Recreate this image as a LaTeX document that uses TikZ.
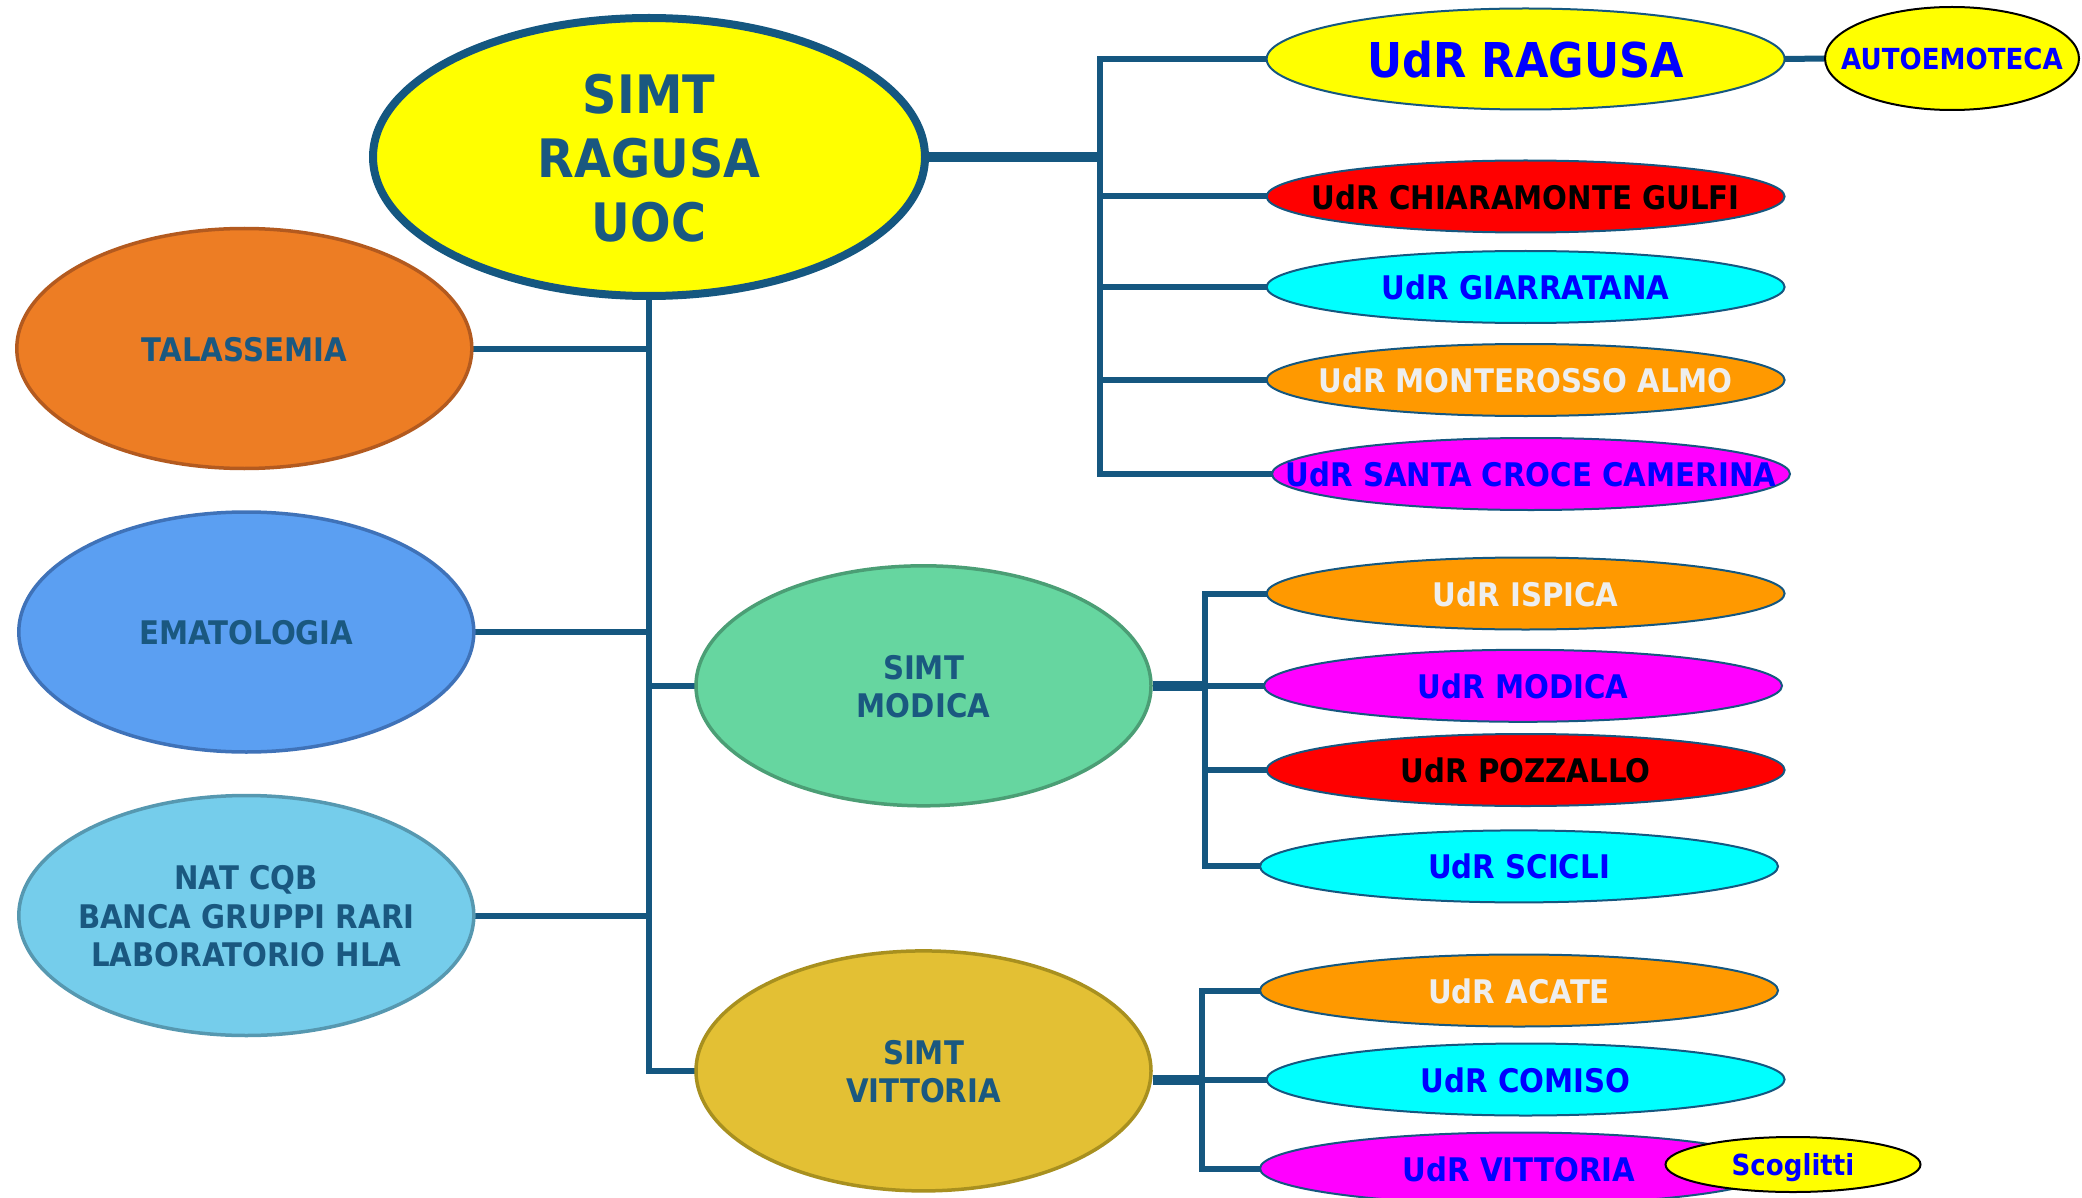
\documentclass[tikz,border=0pt]{standalone}
\usepackage{fontspec}
\newfontfamily\labfont[FakeStretch=0.9]{DejaVu Sans}
\usetikzlibrary{shapes.geometric,backgrounds}
\definecolor{linec}{RGB}{21,87,128}
\definecolor{txtd}{RGB}{26,88,128}
\definecolor{pyellow}{RGB}{255,255,0}
\definecolor{pred}{RGB}{255,0,0}
\definecolor{pcyan}{RGB}{0,255,255}
\definecolor{pmagenta}{RGB}{255,0,255}
\definecolor{udrorange}{RGB}{255,153,0}
\definecolor{lighttxt}{RGB}{238,238,238}
\definecolor{bluetxt}{RGB}{0,0,255}
\definecolor{talf}{RGB}{237,125,36}
\definecolor{talb}{RGB}{179,90,31}
\definecolor{emaf}{RGB}{91,159,242}
\definecolor{emab}{RGB}{63,114,184}
\definecolor{natf}{RGB}{117,205,235}
\definecolor{natb}{RGB}{86,152,176}
\definecolor{modf}{RGB}{102,214,160}
\definecolor{modb}{RGB}{75,158,117}
\definecolor{vitf}{RGB}{227,192,52}
\definecolor{vitb}{RGB}{168,144,31}
\newcommand{\zwbox}[1]{\makebox[0pt]{\raisebox{-0.15em}[\height][\depth]{\begin{tabular}{@{}c@{}}#1\end{tabular}}}}
\begin{document}
\begin{tikzpicture}[x=1pt,y=-1pt,
  base/.style={ellipse, inner sep=0pt, align=center,
    font=\labfont\bfseries\fontsize{32.5}{38.5}\selectfont},
  udr/.style={base, draw=linec, line width=2pt, minimum width=518pt, minimum height=72pt},
  bigell/.style={base, line width=3.5pt, minimum width=455pt, minimum height=240pt, text=txtd},
  small/.style={base, draw=black, line width=2pt, fill=pyellow, text=bluetxt,
    font=\labfont\bfseries\fontsize{29}{34}\selectfont},
  conn/.style={draw=linec, line width=6pt, line cap=rect},
  thickconn/.style={draw=linec, line width=10pt, line cap=butt}]
\path[use as bounding box] (0,0) rectangle (2082,1198);

% main
\node[base, draw=linec, line width=8pt, fill=pyellow, minimum width=552pt, minimum height=278pt,
  text=txtd, font=\labfont\bfseries\fontsize{53}{64}\selectfont] (main) at (649,157) {\zwbox{SIMT\\RAGUSA\\UOC}};

% upper right group
\node[udr, fill=pyellow, text=bluetxt, minimum height=101pt,
  font=\labfont\bfseries\fontsize{48}{56}\selectfont] (r1) at (1525.6,59) {\zwbox{UdR RAGUSA}};
\node[small, minimum width=254pt, minimum height=103pt] (auto) at (1952,58.5) {\zwbox{AUTOEMOTECA}};
\node[udr, fill=pred, text=black] (r2) at (1525.6,196.5) {\zwbox{UdR CHIARAMONTE GULFI}};
\node[udr, fill=pcyan, text=bluetxt] (r3) at (1525.6,287) {\zwbox{UdR GIARRATANA}};
\node[udr, fill=udrorange, text=lighttxt] (r4) at (1525.6,380) {\zwbox{UdR MONTEROSSO ALMO}};
\node[udr, fill=pmagenta, text=bluetxt] (r5) at (1531,474) {\zwbox{UdR SANTA CROCE CAMERINA}};

% left column
\node[bigell, fill=talf, draw=talb] (tal) at (244.3,348.5) {\zwbox{TALASSEMIA}};
\node[bigell, fill=emaf, draw=emab] (ema) at (246.3,632) {\zwbox{EMATOLOGIA}};
\node[bigell, fill=natf, draw=natb] (nat) at (246.3,915.5) {\zwbox{NAT CQB\\BANCA GRUPPI RARI\\LABORATORIO HLA}};
\node[bigell, fill=modf, draw=modb] (mod) at (923.5,685.8) {\zwbox{SIMT\\MODICA}};
\node[bigell, fill=vitf, draw=vitb] (vit) at (923.5,1070.9) {\zwbox{SIMT\\VITTORIA}};

% Modica group
\node[udr, fill=udrorange, text=lighttxt] (m1) at (1525.6,593.5) {\zwbox{UdR ISPICA}};
\node[udr, fill=pmagenta, text=bluetxt] (m2) at (1523,685.8) {\zwbox{UdR MODICA}};
\node[udr, fill=pred, text=black] (m3) at (1525.6,770) {\zwbox{UdR POZZALLO}};
\node[udr, fill=pcyan, text=bluetxt] (m4) at (1519,866.4) {\zwbox{UdR SCICLI}};

% Vittoria group
\node[udr, fill=udrorange, text=lighttxt] (v1) at (1519,990.5) {\zwbox{UdR ACATE}};
\node[udr, fill=pcyan, text=bluetxt] (v2) at (1525.6,1079.5) {\zwbox{UdR COMISO}};
\node[udr, fill=pmagenta, text=bluetxt] (v3) at (1519,1168.5) {\zwbox{UdR VITTORIA}};
\node[small, minimum width=255pt, minimum height=55pt] (sco) at (1793,1164.5) {\zwbox{Scoglitti}};

\coordinate (busR) at (1100,0);
\coordinate (busM) at (1205,0);
\coordinate (busV) at (1202,0);

\begin{scope}[on background layer]
  % right bus
  \draw[thickconn] (main.east) -- (main.east -| busR);
  \draw[conn] (r1.west -| busR) -- (r5.west -| busR);
  \foreach \n in {r1,r2,r3,r4,r5} \draw[conn] (\n.west -| busR) -- (\n.west);
  \draw[conn] (r1.east) -- (auto.west);
  % main vertical
  \draw[conn] (main.south) -- (main.south |- vit.west) -- (vit.west);
  \draw[conn] (main.south |- tal.east) -- (tal.east);
  \draw[conn] (main.south |- ema.east) -- (ema.east);
  \draw[conn] (main.south |- nat.east) -- (nat.east);
  \draw[conn] (main.south |- mod.west) -- (mod.west);
  % Modica bus
  \draw[thickconn] (mod.east) -- (mod.east -| busM);
  \draw[conn] (m1.west -| busM) -- (m4.west -| busM);
  \foreach \n in {m1,m2,m3,m4} \draw[conn] (\n.west -| busM) -- (\n.west);
  % Vittoria bus
  \draw[thickconn] (vit.east |- v2.west) -- (v2.west -| busV);
  \draw[conn] (v1.west -| busV) -- (v3.west -| busV);
  \foreach \n in {v1,v2,v3} \draw[conn] (\n.west -| busV) -- (\n.west);
\end{scope}
\end{tikzpicture}
\end{document}
